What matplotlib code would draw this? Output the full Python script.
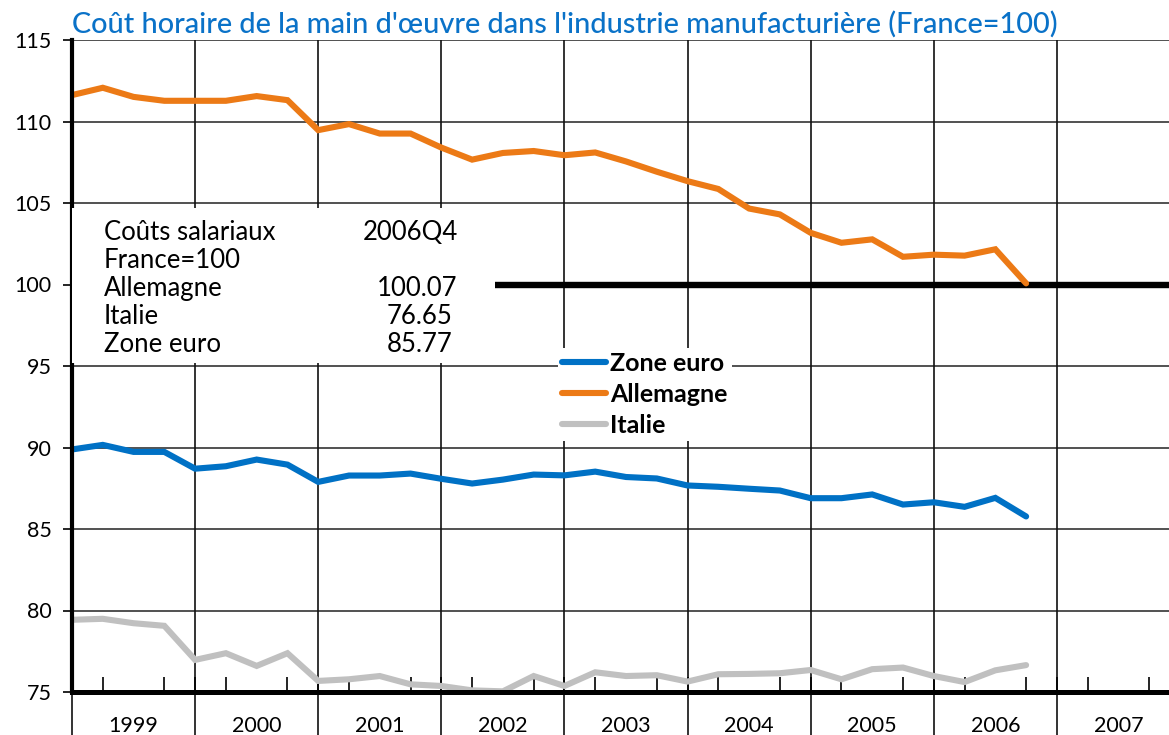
import matplotlib
matplotlib.use("Agg")
import matplotlib.pyplot as plt
from matplotlib.patches import Rectangle
from matplotlib.lines import Line2D
import numpy as np

plt.rcParams['font.family'] = ['Lato', 'DejaVu Sans']

# ---------------- data ----------------
years = ['1999', '2000', '2001', '2002', '2003', '2004', '2005', '2006', '2007']
# quarterly values 1999Q1 .. 2006Q4
allemagne = [111.62, 112.07, 111.51, 111.27, 111.27, 111.27, 111.56, 111.31,
             109.47, 109.84, 109.26, 109.26, 108.40, 107.66, 108.07, 108.19,
             107.93, 108.10, 107.55, 106.92, 106.34, 105.86, 104.66, 104.30,
             103.17, 102.56, 102.77, 101.70, 101.83, 101.77, 102.16, 100.07]
zone_euro = [89.88, 90.16, 89.73, 89.73, 88.70, 88.85, 89.26, 88.95,
             87.89, 88.28, 88.28, 88.40, 88.08, 87.79, 88.03, 88.34,
             88.29, 88.52, 88.19, 88.10, 87.67, 87.59, 87.47, 87.36,
             86.89, 86.89, 87.12, 86.50, 86.64, 86.36, 86.91, 85.77]
italie = [79.43, 79.49, 79.22, 79.06, 76.97, 77.38, 76.60, 77.38,
          75.68, 75.78, 75.98, 75.47, 75.37, 75.10, 75.04, 75.98,
          75.37, 76.21, 75.98, 76.03, 75.64, 76.09, 76.11, 76.15,
          76.35, 75.78, 76.40, 76.50, 75.98, 75.61, 76.33, 76.65]
france_ref = 100
y_ticks = [75, 80, 85, 90, 95, 100, 105, 110, 115]
title = "Coût horaire de la main d'œuvre dans l'industrie manufacturière (France=100)"
box_rows = [("Coûts salariaux", "2006Q4"), ("France=100", ""),
            ("Allemagne", "100.07"), ("Italie", "76.65"), ("Zone euro", "85.77")]

# ---------------- style ----------------
BLUE = '#0071C5'
ORANGE = '#EC7A16'
GREY = '#C0C0C0'
TITLE_BLUE = '#0A72C8'

W, H = 1169, 735
fig = plt.figure(figsize=(W / 100, H / 100), dpi=100)

def fx(px):
    return px / W

def fy(py):
    return 1 - py / H

x0_px, x1_px = 72, 1180
ytop_px, ybot_px = 40, 692
ax = fig.add_axes([fx(x0_px), fy(ybot_px), fx(x1_px - x0_px), (ybot_px - ytop_px) / H])

nq = len(allemagne)
xq = np.arange(nq)
nyears = len(years)
ax.set_xlim(0, 4 * nyears)
ax.set_ylim(y_ticks[0], y_ticks[-1])

# grid lines
for yv in y_ticks[1:]:
    ax.axhline(yv, color='#222222', lw=1.1, zorder=1)
ylow = y_ticks[0] - (H - ybot_px) / ((ybot_px - ytop_px) / (y_ticks[-1] - y_ticks[0]))
ax.vlines(np.arange(4, 4 * nyears + 1, 4), ylow, y_ticks[-1], color='#111111',
          lw=1.2, clip_on=False, zorder=1)
ax.vlines([0], ylow, y_ticks[0], color='#111111', lw=1.2, clip_on=False, zorder=1)

# France = 100 reference line
ax.axhline(france_ref, color='black', lw=4.6, zorder=2)

# series
ax.plot(xq, allemagne, color=ORANGE, lw=4.4, solid_capstyle='round',
        solid_joinstyle='miter', zorder=4)
ax.plot(xq, zone_euro, color=BLUE, lw=4.4, solid_capstyle='round',
        solid_joinstyle='miter', zorder=4)
ax.plot(xq, italie, color=GREY, lw=4.4, solid_capstyle='round',
        solid_joinstyle='miter', zorder=3)

# spines
for s in ['top', 'right']:
    ax.spines[s].set_visible(False)
ax.spines['left'].set_linewidth(3.0)
ax.spines['bottom'].set_linewidth(3.6)
ax.spines['left'].set_zorder(6)
ax.spines['bottom'].set_zorder(6)

# ticks
ax.set_yticks(y_ticks)
ax.set_yticklabels([str(v) for v in y_ticks], fontsize=15.5)
ax.tick_params(axis='y', direction='out', length=6.5, width=1.2, pad=8, colors='black')
ax.set_xticks(np.arange(2, 4 * nyears, 4))
ax.set_xticklabels(years, fontsize=15.5)
ax.tick_params(axis='x', which='major', length=0, pad=17)
ax.set_xticks(np.arange(1, 4 * nyears), minor=True)
ax.tick_params(axis='x', which='minor', direction='in', length=11, width=1.2)

# info box
fig.patches.append(Rectangle((fx(72), fy(363)), fx(495 - 72), (363 - 208) / H,
                             transform=fig.transFigure, facecolor='white',
                             edgecolor='none', zorder=5))
row_y = [232.7, 260.7, 288.5, 316.7, 344.5]
right_x = [458, 458, 457, 453, 452]
for (lab, val), ry, rx in zip(box_rows, row_y, right_x):
    fig.text(fx(104), fy(ry), lab, fontsize=18.5, ha='left', va='center', zorder=6)
    if val:
        fig.text(fx(rx), fy(ry), val, fontsize=18.5, ha='right', va='center', zorder=6)

# legend
handles = [Line2D([], [], color=BLUE, lw=4.4, solid_capstyle='round'),
           Line2D([], [], color=ORANGE, lw=4.4, solid_capstyle='round'),
           Line2D([], [], color=GREY, lw=4.4, solid_capstyle='round')]
leg = fig.legend(handles, ['Zone euro', 'Allemagne', 'Italie'],
                 loc='upper left', bbox_to_anchor=(fx(558), fy(348)),
                 frameon=True, fancybox=False, edgecolor='none', facecolor='white',
                 framealpha=1, handlelength=1.75, handletextpad=0.2,
                 labelspacing=0.32, borderpad=0.15, borderaxespad=0,
                 prop={'size': 18, 'weight': 'bold'})
leg.set_zorder(7)

# title
fig.text(fx(72), fy(24), title, fontsize=20.8, color=TITLE_BLUE, ha='left',
         va='center', fontweight='medium')

fig.savefig('out.png', dpi=100)
